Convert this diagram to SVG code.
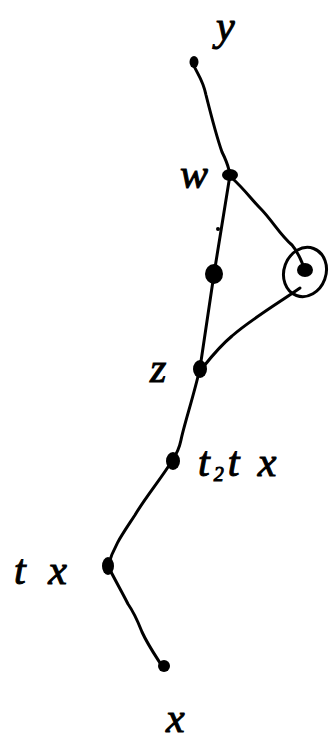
<svg xmlns="http://www.w3.org/2000/svg" width="330" height="741" viewBox="0 0 330 741">
<style>
.e{fill:none;stroke:#000;stroke-width:3;stroke-linecap:round;stroke-linejoin:round}
.n{fill:#000}
.t{font-family:"Liberation Serif",serif;font-style:italic;font-size:42px;fill:#000;stroke:#000;stroke-width:1}
</style>
<rect width="330" height="741" fill="#fff"/>
<g id="connectors">
<path class="e" d="M193,64 C198,75 203,80 206,95 C211,115 216,135 222,152 C226,160 227,162 229,170"/>
<path class="e" d="M230,175 L214,274 L200,368"/>
<path class="e" d="M232,178 C245,190 252,200 260,208 C272,220 280,235 292,245 C298,252 300,258 303,265"/>
<path class="e" d="M300,288 C280,302 250,320 232,336 C220,346 212,356 204,366"/>
<path class="e" d="M200,368 C194,395 184,425 181,440 C179,450 176,455 172,461"/>
<path class="e" d="M172,461 C160,480 145,498 135,515 C124,532 114,545 108,566"/>
<path class="e" d="M108,566 C115,580 122,592 128,604 C135,614 138,622 142,632 C148,645 155,655 162,666"/>
<circle class="n" cx="218" cy="229" r="2"/>
</g>
<g id="node-y"><ellipse class="n" cx="194" cy="62" rx="4.5" ry="6"/><text class="t" x="216" y="40">y</text></g>
<g id="node-w"><ellipse class="n" cx="230" cy="175" rx="8" ry="6"/><text class="t" x="180" y="188">w</text></g>
<g id="node-mid"><ellipse class="n" cx="214" cy="274" rx="9" ry="10"/></g>
<g id="node-circled"><ellipse class="n" cx="305" cy="270" rx="8" ry="7"/><ellipse cx="305" cy="272" rx="21" ry="25" transform="rotate(20 305 272)" fill="none" stroke="#000" stroke-width="3"/></g>
<g id="node-z"><ellipse class="n" cx="200" cy="369" rx="7" ry="9"/><text class="t" x="150" y="382">z</text></g>
<g id="node-t2tx"><ellipse class="n" cx="173" cy="461" rx="7" ry="9"/><text class="t" x="198" y="476" letter-spacing="4">t<tspan font-size="20" dy="5">2</tspan><tspan dy="-5">t x</tspan></text></g>
<g id="node-tx"><ellipse class="n" cx="108" cy="566" rx="6" ry="9"/><text class="t" x="14" y="584" letter-spacing="6">t x</text></g>
<g id="node-x"><ellipse class="n" cx="164" cy="666" rx="6" ry="6"/><text class="t" x="166" y="732">x</text></g>
</svg>
